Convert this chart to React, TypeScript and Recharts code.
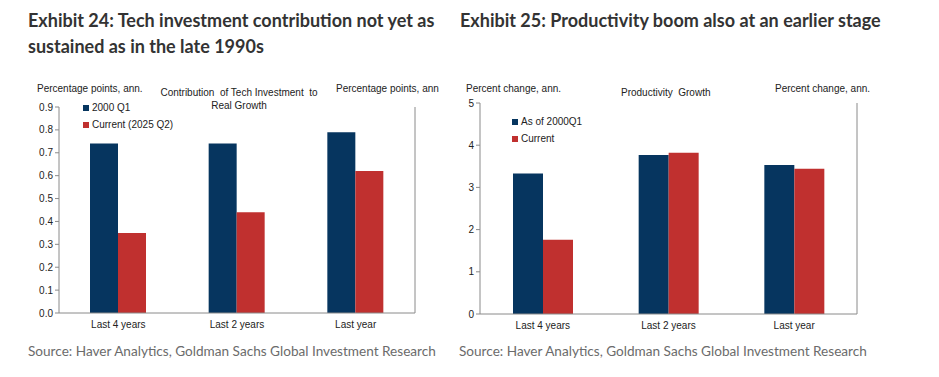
import { Bar, BarChart, XAxis, YAxis } from "recharts";

// exhibit 24
const periods = ["Last 4 years", "Last 2 years", "Last year"];
const tech2000Q1 = [0.74, 0.74, 0.79];
const techCurrent = [0.35, 0.44, 0.62];
const techTicks = [0, 0.1, 0.2, 0.3, 0.4, 0.5, 0.6, 0.7, 0.8, 0.9];

// exhibit 25
const prod2000Q1 = [3.33, 3.77, 3.53];
const prodCurrent = [1.76, 3.82, 3.44];
const prodTicks = [0, 1, 2, 3, 4, 5];

const NAVY = "#06355f";
const RED = "#c0302f";
const AXIS = "#8a8a8a";
const CHART_FONT = "'Liberation Sans', Arial, sans-serif";

const techData = periods.map((p, i) => ({ period: p, a: tech2000Q1[i], b: techCurrent[i] }));
const prodData = periods.map((p, i) => ({ period: p, a: prod2000Q1[i], b: prodCurrent[i] }));

const tickStyle = { fontSize: 10, fill: "#222", fontFamily: CHART_FONT };

function LegendBox({ items, left, top }: { items: Array<[string, string]>; left: number; top: number }) {
  return (
    <div style={{ position: "absolute", left, top, fontFamily: CHART_FONT, fontSize: 10, color: "#222" }}>
      {items.map(([label, color]) => (
        <div key={label} style={{ display: "flex", alignItems: "center", height: 17, whiteSpace: "nowrap" }}>
          <span style={{ width: 6, height: 6, background: color, marginRight: 3, display: "inline-block" }} />
          {label}
        </div>
      ))}
    </div>
  );
}

function abs(left: number, top: number, extra: any = {}) {
  return { position: "absolute" as const, left, top, whiteSpace: "nowrap" as const, ...extra };
}

const small = { fontFamily: CHART_FONT, fontSize: 10, color: "#222" };
const title = { fontFamily: "Lato, sans-serif", fontWeight: 700, fontSize: 18, color: "#333", lineHeight: "26px" };
const source = { fontFamily: "Lato, sans-serif", fontSize: 13.6, color: "#6b6b6b" };

export default function App() {
  return (
    <div style={{ position: "absolute", left: 0, top: 0, width: 939, height: 377, background: "#fff", overflow: "hidden" }}>
      <div style={abs(28, 7, title)}>
        Exhibit 24: Tech investment contribution not yet as
        <br />
        sustained as in the late 1990s
      </div>
      <div style={abs(460, 7, title)}>Exhibit 25: Productivity boom also at an earlier stage</div>

      {/* left chart */}
      <div style={abs(0, 0)}>
        <BarChart
          width={460}
          height={340}
          data={techData}
          margin={{ top: 107, right: 15, bottom: 7, left: 29 }}
          barGap={0}
          barSize={28}
        >
          <XAxis dataKey="period" tickLine={false} stroke={AXIS} tick={tickStyle} height={20} />
          <YAxis
            yAxisId="l"
            domain={[0, 0.9]}
            ticks={techTicks}
            tickFormatter={(v: number) => v.toFixed(1)}
            width={30}
            stroke={AXIS}
            tickSize={4}
            tick={tickStyle}
            interval={0}
          />
          <YAxis
            yAxisId="r"
            orientation="right"
            domain={[0, 0.9]}
            ticks={techTicks}
            tickFormatter={(v: number) => v.toFixed(1)}
            width={30}
            stroke={AXIS}
            tickSize={4}
            tick={tickStyle}
            interval={0}
          />
          <Bar yAxisId="l" dataKey="a" name="2000 Q1" fill={NAVY} isAnimationActive={false} />
          <Bar yAxisId="l" dataKey="b" name="Current (2025 Q2)" fill={RED} isAnimationActive={false} />
        </BarChart>
      </div>
      <LegendBox items={[["2000 Q1", NAVY], ["Current (2025 Q2)", RED]]} left={83} top={99} />
      <div style={abs(37, 83, small)}>Percentage points, ann.</div>
      <div style={abs(239, 86, { ...small, whiteSpace: "normal", width: 180, marginLeft: -90, textAlign: "center", lineHeight: "13px" })}>
        Contribution&nbsp; of Tech Investment&nbsp; to
        <br />
        Real Growth
      </div>
      <div style={abs(336, 83, small)}>Percentage points, ann</div>

      {/* right chart */}
      <div style={abs(460, 0)}>
        <BarChart
          width={479}
          height={340}
          data={prodData}
          margin={{ top: 103, right: 52, bottom: 6, left: 0 }}
          barGap={0}
          barSize={30}
        >
          <XAxis dataKey="period" tickLine={false} stroke={AXIS} tick={tickStyle} height={20} />
          <YAxis
            yAxisId="l"
            domain={[0, 5]}
            ticks={prodTicks}
            width={20}
            stroke={AXIS}
            tickSize={4}
            tick={tickStyle}
            interval={0}
          />
          <YAxis
            yAxisId="r"
            orientation="right"
            domain={[0, 5]}
            ticks={prodTicks}
            width={30}
            stroke={AXIS}
            tickSize={4}
            tick={tickStyle}
            interval={0}
          />
          <Bar yAxisId="l" dataKey="a" name="As of 2000Q1" fill={NAVY} isAnimationActive={false} />
          <Bar yAxisId="l" dataKey="b" name="Current" fill={RED} isAnimationActive={false} />
        </BarChart>
      </div>
      <LegendBox items={[["As of 2000Q1", NAVY], ["Current", RED]]} left={512} top={113} />
      <div style={abs(466, 83, small)}>Percent change, ann.</div>
      <div style={abs(621, 87, small)}>Productivity&nbsp; Growth</div>
      <div style={abs(775, 83, small)}>Percent change, ann.</div>

      <div style={abs(28, 343, source)}>Source: Haver Analytics, Goldman Sachs Global Investment Research</div>
      <div style={abs(459, 343, source)}>Source: Haver Analytics, Goldman Sachs Global Investment Research</div>
    </div>
  );
}
